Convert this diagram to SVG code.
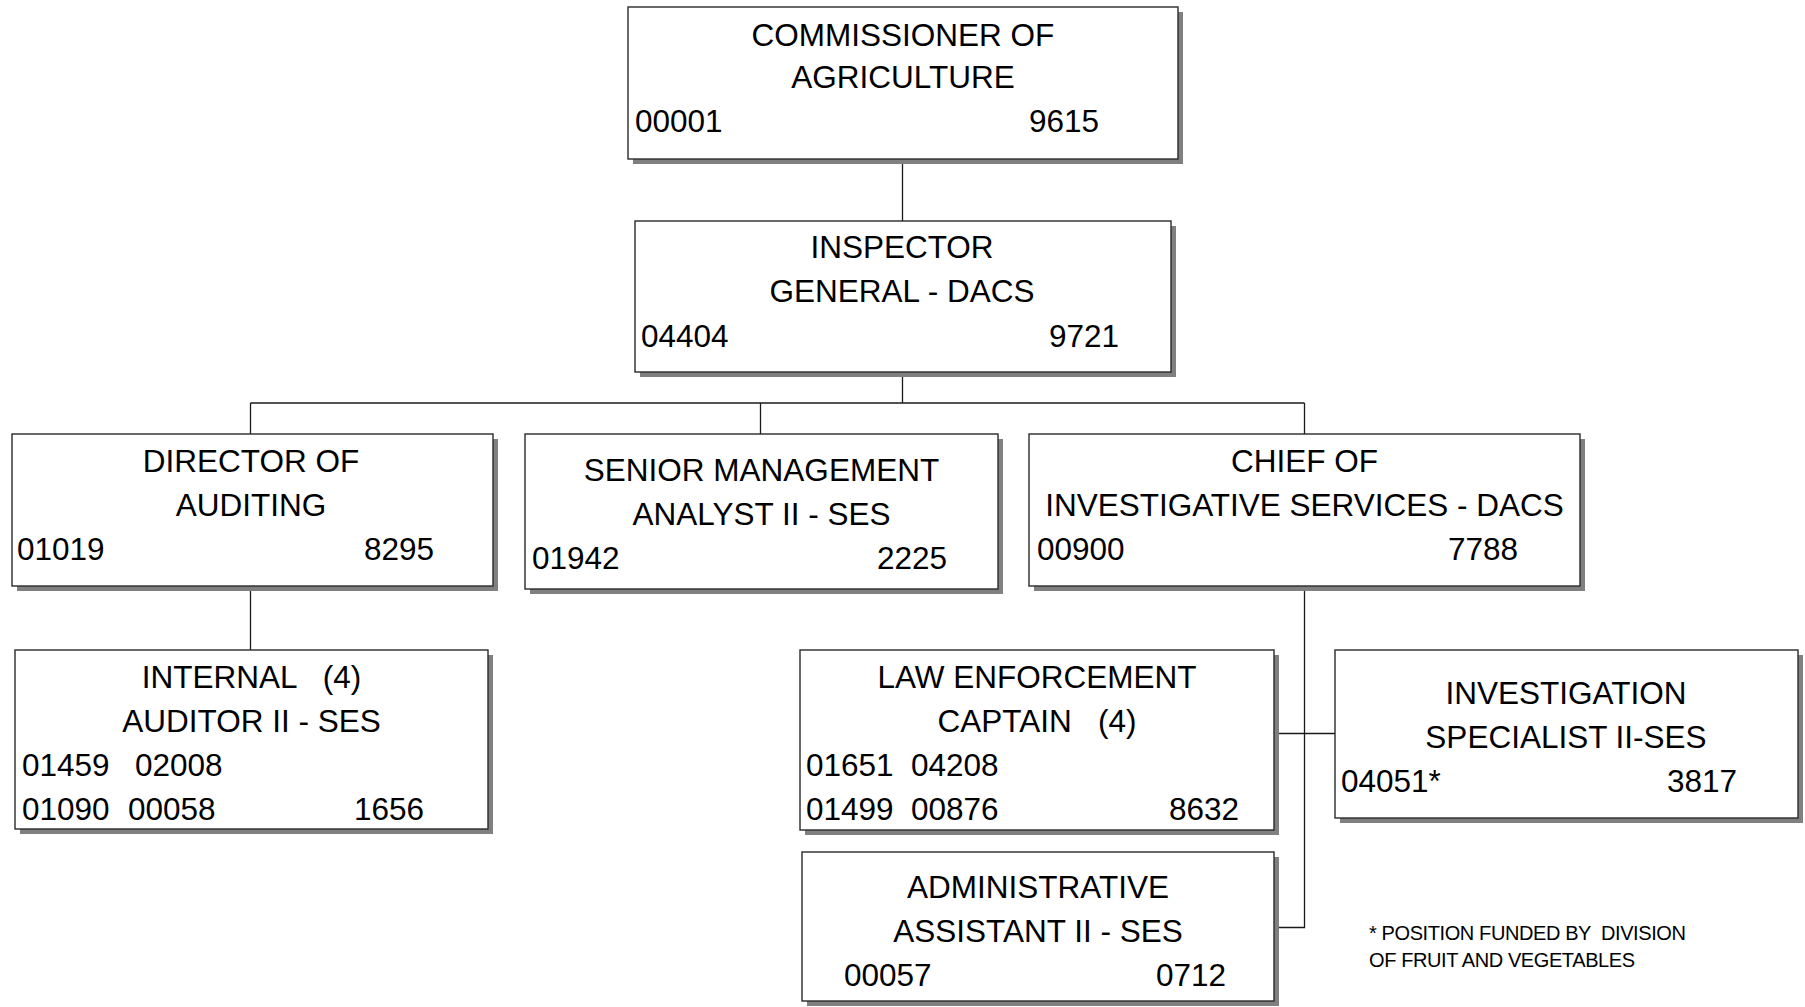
<svg xmlns="http://www.w3.org/2000/svg" width="1805" height="1007" viewBox="0 0 1805 1007">
  <style>
    .bg { fill: #ffffff; }
    .shadow { fill: #808080; }
    .box { fill: #ffffff; stroke: #2a2a2a; stroke-width: 1.4; }
    text { font-family: "Liberation Sans", Arial, sans-serif; font-size: 31.5px; fill: #000000; white-space: pre; }
    .t { text-anchor: middle; }
    .r { text-anchor: end; }
    .note { font-size: 20px; letter-spacing: -0.4px; }
    .link { fill: none; stroke: #1a1a1a; stroke-width: 1.3; }
  </style>

  <rect class="bg" x="0" y="0" width="1805" height="1007"/>

  <!-- reporting lines -->
  <g id="connectors">
    <path class="link" d="M902.5 159 V221"/>
    <path class="link" d="M902.5 372 V403"/>
    <path class="link" d="M250.5 403 H1304.5"/>
    <path class="link" d="M250.5 403 V434"/>
    <path class="link" d="M760.5 403 V434"/>
    <path class="link" d="M1304.5 403 V434"/>
    <path class="link" d="M250.5 586 V650"/>
    <path class="link" d="M1304.5 586 V927.5 H1274"/>
    <path class="link" d="M1274 733.5 H1335"/>
  </g>

  <g id="commissioner">
    <rect class="shadow" x="633" y="12" width="550" height="152"/>
    <rect class="box" x="628" y="7" width="550" height="152"/>
    <text class="t" x="903" y="46">COMMISSIONER OF</text>
    <text class="t" x="903" y="88">AGRICULTURE</text>
    <text x="635" y="132">00001</text>
    <text class="r" x="1099" y="132">9615</text>
  </g>

  <g id="inspector-general">
    <rect class="shadow" x="640" y="226" width="536" height="151"/>
    <rect class="box" x="635" y="221" width="536" height="151"/>
    <text class="t" x="902" y="258">INSPECTOR</text>
    <text class="t" x="902" y="302">GENERAL - DACS</text>
    <text x="641" y="347">04404</text>
    <text class="r" x="1119" y="347">9721</text>
  </g>

  <g id="director-auditing">
    <rect class="shadow" x="17" y="439" width="481" height="152"/>
    <rect class="box" x="12" y="434" width="481" height="152"/>
    <text class="t" x="251" y="472">DIRECTOR OF</text>
    <text class="t" x="251" y="516">AUDITING</text>
    <text x="17" y="560">01019</text>
    <text class="r" x="434" y="560">8295</text>
  </g>

  <g id="senior-management-analyst">
    <rect class="shadow" x="530" y="439" width="473" height="155"/>
    <rect class="box" x="525" y="434" width="473" height="155"/>
    <text class="t" x="761.5" y="481">SENIOR MANAGEMENT</text>
    <text class="t" x="761.5" y="525">ANALYST II - SES</text>
    <text x="532" y="569">01942</text>
    <text class="r" x="947" y="569">2225</text>
  </g>

  <g id="chief-investigative-services">
    <rect class="shadow" x="1034" y="439" width="551" height="152"/>
    <rect class="box" x="1029" y="434" width="551" height="152"/>
    <text class="t" x="1304.5" y="472">CHIEF OF</text>
    <text class="t" x="1304.5" y="516">INVESTIGATIVE SERVICES - DACS</text>
    <text x="1037" y="560">00900</text>
    <text class="r" x="1518" y="560">7788</text>
  </g>

  <g id="internal-auditor">
    <rect class="shadow" x="20" y="655" width="473" height="179"/>
    <rect class="box" x="15" y="650" width="473" height="179"/>
    <text class="t" x="251.5" y="688" xml:space="preserve">INTERNAL   (4)</text>
    <text class="t" x="251.5" y="732">AUDITOR II - SES</text>
    <text x="22" y="776">01459</text>
    <text x="135" y="776">02008</text>
    <text x="22" y="820">01090</text>
    <text x="128" y="820">00058</text>
    <text class="r" x="424" y="820">1656</text>
  </g>

  <g id="law-enforcement-captain">
    <rect class="shadow" x="805" y="655" width="474" height="180"/>
    <rect class="box" x="800" y="650" width="474" height="180"/>
    <text class="t" x="1037" y="688">LAW ENFORCEMENT</text>
    <text class="t" x="1037" y="732" xml:space="preserve">CAPTAIN   (4)</text>
    <text x="806" y="776">01651</text>
    <text x="911" y="776">04208</text>
    <text x="806" y="820">01499</text>
    <text x="911" y="820">00876</text>
    <text class="r" x="1239" y="820">8632</text>
  </g>

  <g id="investigation-specialist">
    <rect class="shadow" x="1340" y="655" width="463" height="168"/>
    <rect class="box" x="1335" y="650" width="463" height="168"/>
    <text class="t" x="1566" y="704">INVESTIGATION</text>
    <text class="t" x="1566" y="748">SPECIALIST II-SES</text>
    <text x="1341" y="792">04051*</text>
    <text class="r" x="1737" y="792">3817</text>
  </g>

  <g id="administrative-assistant">
    <rect class="shadow" x="807" y="857" width="472" height="149"/>
    <rect class="box" x="802" y="852" width="472" height="149"/>
    <text class="t" x="1038" y="898">ADMINISTRATIVE</text>
    <text class="t" x="1038" y="942">ASSISTANT II - SES</text>
    <text x="844" y="986">00057</text>
    <text class="r" x="1226" y="986">0712</text>
  </g>

  <g id="footnote">
    <text class="note" x="1369" y="940" xml:space="preserve">* POSITION FUNDED BY  DIVISION</text>
    <text class="note" x="1369" y="967">OF FRUIT AND VEGETABLES</text>
  </g>
</svg>
